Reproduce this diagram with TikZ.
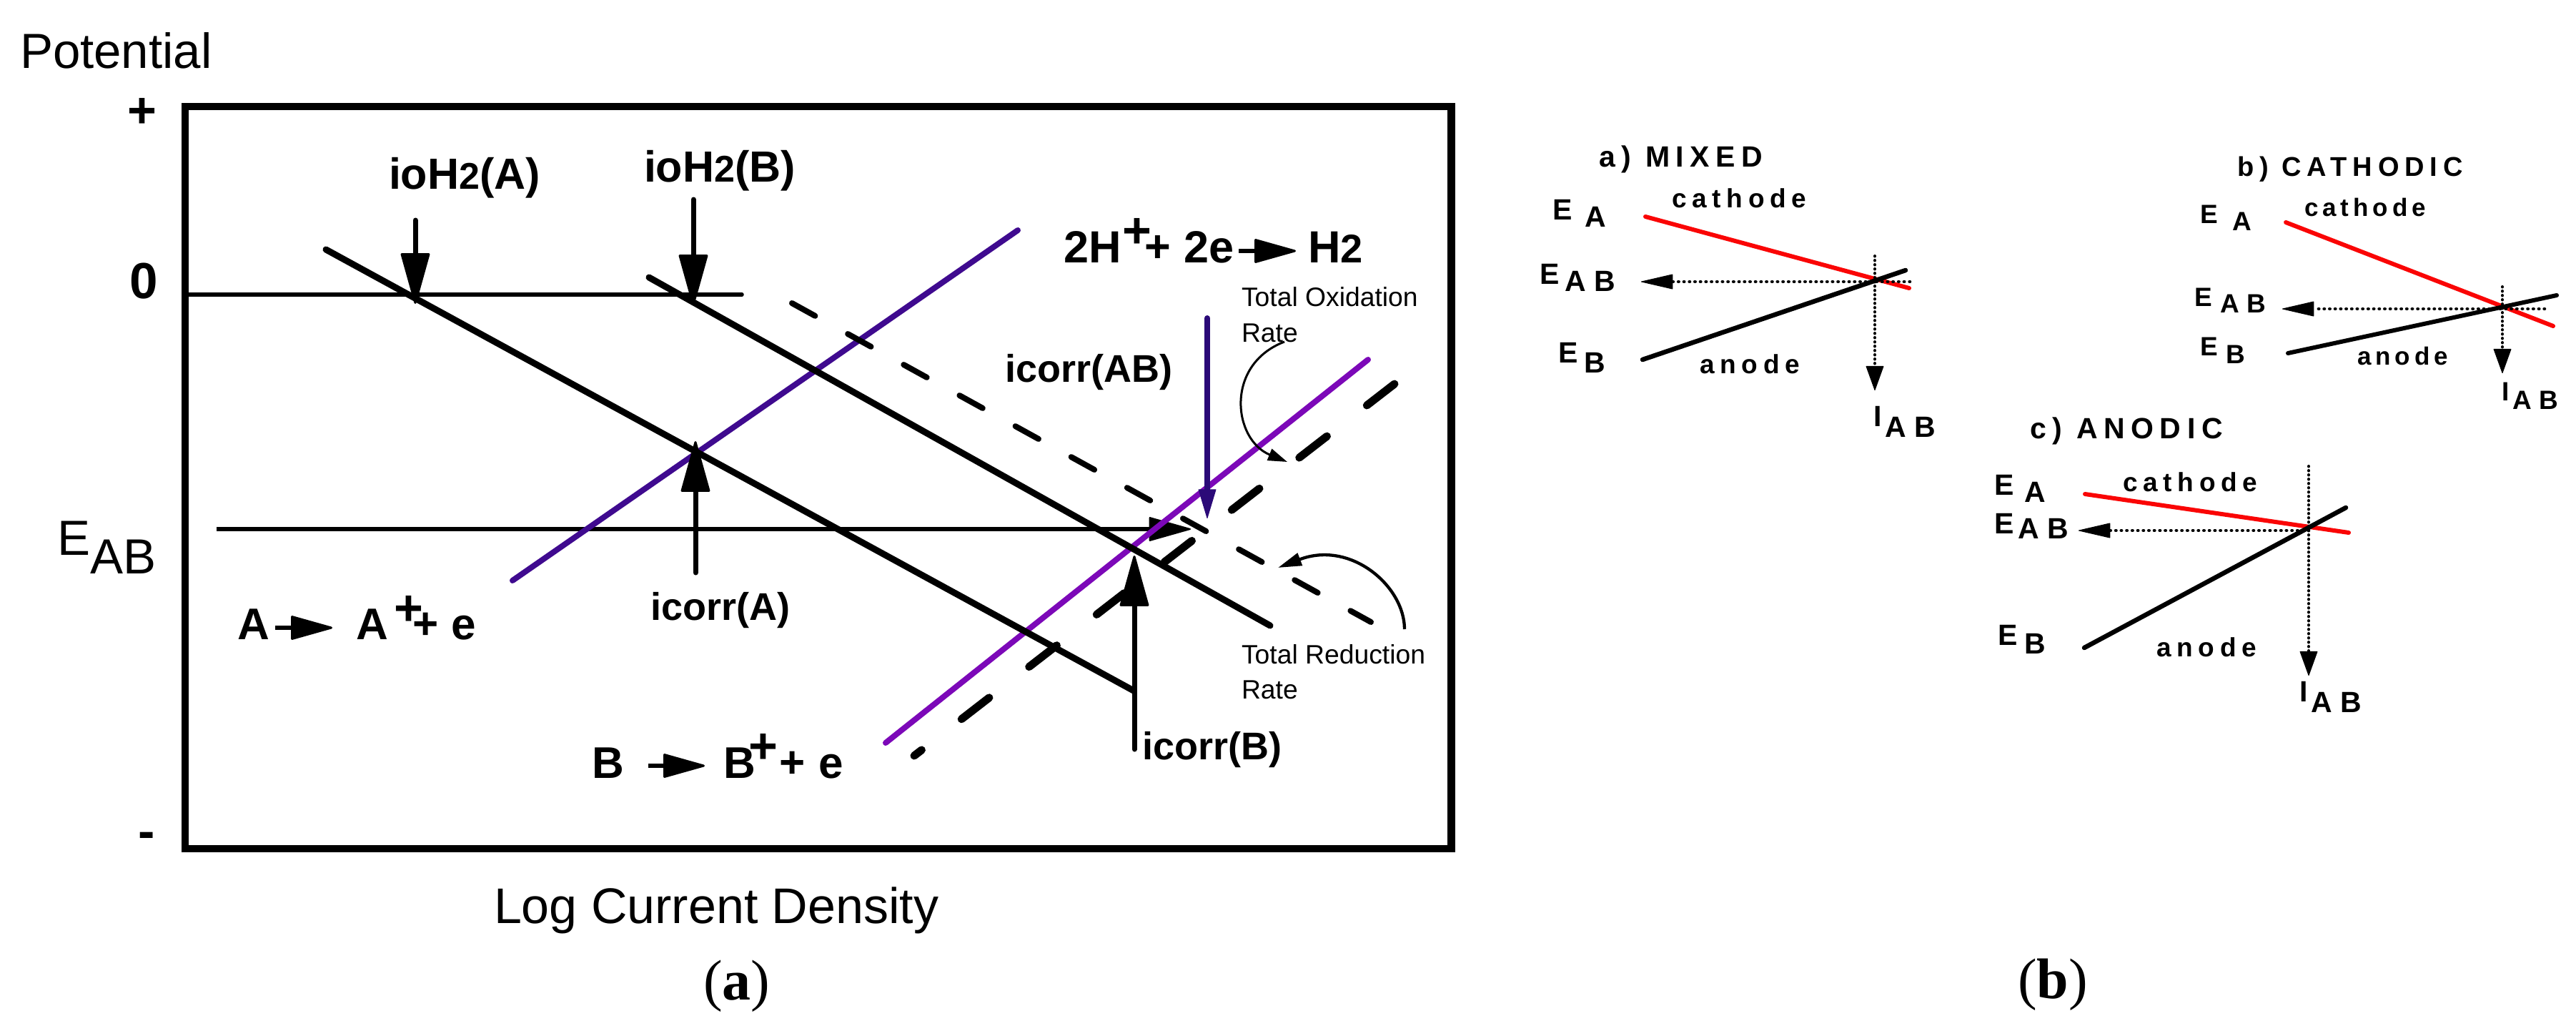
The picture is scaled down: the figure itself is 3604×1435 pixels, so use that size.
\documentclass[tikz,border=0pt]{standalone}
\usepackage{fontspec}
\usepackage{graphicx}
\setmainfont{Liberation Sans}
\newfontfamily\spc[LetterSpace=21]{Liberation Sans}
\newfontfamily\spcn[LetterSpace=17]{Liberation Sans}
\newfontfamily\spcs[LetterSpace=28]{Liberation Sans}
\newfontfamily\capfont{Liberation Serif}
\usetikzlibrary{arrows.meta}
\definecolor{indigoA}{HTML}{3F0A8F}
\definecolor{indigoD}{HTML}{2B0A78}
\definecolor{violetB}{HTML}{7C08B8}
\definecolor{redL}{HTML}{FA0505}
\newcommand\szf[1]{\fontsize{#1}{#1}\selectfont}
% name, x, baseline, size, main, dx to sub, drop, sub
\newcommand\sublab[8]{\node[lab,font=\bfseries\szf{#4}] (#1) at (#2,#3) {\makebox[0pt][l]{#5}\hspace{#6pt}\raisebox{-#7pt}{\spcs\bfseries #8}};}
\tikzset{
  lab/.style={anchor=base west,inner sep=0pt,outer sep=0pt},
  frame/.style={line width=10.5pt,line join=miter},
  thinrule/.style={line width=5.5pt,line cap=round},
  thick black/.style={line width=9pt,line cap=round},
  ratedash/.style={line width=8pt,line cap=round,dash pattern=on 37pt off 52.2pt},
  oxdash/.style={line width=11pt,line cap=round,dash pattern=on 49pt off 70.5pt},
  purp/.style={line width=8pt,line cap=round},
  bigarrow/.style={line width=7pt,line cap=round,-{Triangle[round,line width=3pt,length=75pt,width=41pt]}},
  rxnarrow/.style={line width=5.5pt,-{Triangle[round,line width=3pt,length=62pt,width=34pt]}},
  curvy/.style={line width=3pt},
  smallline/.style={line width=6pt,line cap=round},
  dotted h/.style={line width=4.5pt,line cap=round,dash pattern=on 0.5pt off 7.2pt,-{Triangle[round,sep=0pt,line width=1pt,length=46pt,width=21pt,fill=black]}},
  dashed v/.style={line width=4pt,line cap=round,dash pattern=on 0.5pt off 5.5pt,-{Triangle[round,line width=1pt,length=35pt,width=25pt]}},
}
\begin{document}
\begin{tikzpicture}[x=1pt,y=-1pt]
\useasboundingbox (0,0) rectangle (3604,1435);
% ---------- panel (a) ----------
\draw[frame] (259,149) rectangle (2030.5,1187);
\node[lab,font=\szf{69}] (potential) at (28,95) {Potential};
\node[lab,font=\bfseries\szf{70}] (plus) at (178,178) {+};
\node[lab,font=\bfseries\szf{71}] (zero) at (181,417) {0};
\node[lab,font=\bfseries\szf{70}] (minus) at (193,1186) {-};
\node[lab,font=\szf{69}] (eab) at (80,776) {E\raisebox{-26pt}{AB}};
\node[lab,font=\szf{70}] (logcd) at (691,1291) {Log Current Density};
\node[lab,font=\capfont\szf{80}] (capa) at (984,1398) {(\textbf{a})};
\node[lab,font=\capfont\szf{80}] (capb) at (2823,1396) {(\textbf{b})};

\coordinate (z0) at (259,412); \coordinate (z1) at (1038,412);
\draw[thinrule] (z0) -- (z1);
\coordinate (e0) at (303,740); \coordinate (e1) at (1666,740);
\draw[line width=5.5pt,-{Triangle[round,line width=2pt,length=61pt,width=34pt]}] (e0) -- (e1);

\coordinate (pa0) at (717,812); \coordinate (pa1) at (1424,322);
\coordinate (pb0) at (1239,1039); \coordinate (pb1) at (1914,503);
\draw[purp,indigoA] (pa0) -- (pa1);
\draw[purp,violetB] (pb0) -- (pb1);

\coordinate (la0) at (456,349); \coordinate (la1) at (1586,966);
\coordinate (lb0) at (908,388); \coordinate (lb1) at (1777,875);
\draw[thick black] (la0) -- (la1);
\draw[thick black] (lb0) -- (lb1);
\coordinate (rd0) at (1108,424); \coordinate (rd1) at (1918,870);
\draw[ratedash] (rd0) -- (rd1);
\coordinate (ox0) at (1951,537); \coordinate (ox1) at (1279,1057);
\draw[oxdash] (ox0) -- (ox1);

% vertical arrows
\coordinate (ia0) at (581,308); \coordinate (ia1) at (581,425);
\coordinate (ib0) at (970,279); \coordinate (ib1) at (970,427);
\coordinate (ca0) at (973,801); \coordinate (ca1) at (973,617);
\coordinate (cb0) at (1587,1048); \coordinate (cb1) at (1587,777);
\coordinate (cab0) at (1689,445); \coordinate (cab1) at (1689,725);
\draw[bigarrow] (ia0) -- (ia1);
\draw[bigarrow] (ib0) -- (ib1);
\draw[bigarrow] (ca0) -- (ca1);
\draw[bigarrow] (cb0) -- (cb1);
\draw[line width=8pt,line cap=round,indigoD,-{Triangle[round,line width=1pt,length=42pt,width=25pt]}] (cab0) -- (cab1);

% curved arrows
\coordinate (co0) at (1797,478); \coordinate (co1) at (1801,646);
\draw[curvy,-{Triangle[length=27pt,width=17pt]}] (co0) .. controls (1713,510) and (1725,615) .. (co1);
\coordinate (cr0) at (1965,880); \coordinate (cr1) at (1788,794);
\draw[line width=4.3pt,-{Triangle[length=33pt,width=18pt]}] (cr0) .. controls (1965,820) and (1890,755) .. (cr1);

% labels
\node[lab,font=\bfseries\szf{61}] (ioa) at (544,264) {ioH{\szf{52}2}(A)};
\node[lab,font=\bfseries\szf{61}] (iob) at (901,254) {ioH{\szf{52}2}(B)};
\node[lab,font=\bfseries\szf{54}] (icab) at (1406,534) {icorr(AB)};
\node[lab,font=\bfseries\szf{54}] (ica) at (910,867) {icorr(A)};
\node[lab,font=\bfseries\szf{54}] (icb) at (1598,1062) {icorr(B)};
\node[lab,font=\szf{37.3}] (toxa) at (1737,428) {Total Oxidation};
\node[lab,font=\szf{37.3}] (toxb) at (1737,478) {Rate};
\node[lab,font=\szf{37.3}] (trda) at (1737,928) {Total Reduction};
\node[lab,font=\szf{37.3}] (trdb) at (1737,977) {Rate};

% H reaction
\node[lab,font=\bfseries\szf{63}] (hh) at (1488,367) {2H};
\node[lab,font=\bfseries\szf{70}] (hs) at (1570,346) {+};
\node[lab,font=\bfseries\szf{63}] (hp) at (1601,366) {+};
\node[lab,font=\bfseries\szf{63}] (he) at (1656,367) {2e};
\node[lab,font=\bfseries\szf{63}] (h2) at (1830,367) {H{\szf{56}2}};
\coordinate (hr0) at (1733,351); \coordinate (hr1) at (1813,351);
\draw[rxnarrow] (hr0) -- (hr1);
% A reaction
\node[lab,font=\bfseries\szf{62}] (ra) at (332,894) {A};
\coordinate (ar0) at (385,878); \coordinate (ar1) at (465,878);
\draw[rxnarrow] (ar0) -- (ar1);
\node[lab,font=\bfseries\szf{62}] (rb) at (498,894) {A};
\node[lab,font=\bfseries\szf{70}] (rs) at (551,874) {+};
\node[lab,font=\bfseries\szf{62}] (rp) at (577,893) {+};
\node[lab,font=\bfseries\szf{62}] (re) at (631,894) {e};
% B reaction
\node[lab,font=\bfseries\szf{62}] (sa) at (828,1088) {B};
\coordinate (br0) at (907,1071); \coordinate (br1) at (986,1071);
\draw[rxnarrow] (br0) -- (br1);
\node[lab,font=\bfseries\szf{62}] (sb) at (1012,1088) {B};
\node[lab,font=\bfseries\szf{70}] (ss) at (1047,1067) {+};
\node[lab,font=\bfseries\szf{62}] (sp) at (1090,1087) {+};
\node[lab,font=\bfseries\szf{62}] (se) at (1145,1088) {e};

% ---------- panel (b) a) ----------
\node[lab,font=\spc\bfseries\szf{41}] (mt) at (2237,233) {a) MIXED};
\sublab{ma}{2172}{307}{41}{E}{45}{10}{A}
\node[lab,font=\spc\bfseries\szf{37}] (mc) at (2339,290) {cathode};
\sublab{mab}{2154}{397}{41}{E}{35}{10}{AB}
\sublab{mb}{2180}{507}{41}{E}{36}{14}{B}
\node[lab,font=\spc\bfseries\szf{37}] (mn) at (2378,522) {anode};
\sublab{mi}{2621}{596}{41}{I}{16}{15}{AB}
\coordinate (mr0) at (2302,303); \coordinate (mr1) at (2671,403);
\coordinate (mk0) at (2298,503); \coordinate (mk1) at (2666,378);
\coordinate (md0) at (2672,394); \coordinate (md1) at (2296,394);
\coordinate (mv0) at (2623,358); \coordinate (mv1) at (2623,546);
\draw[smallline,redL] (mr0) -- (mr1);
\draw[line width=6.5pt,line cap=round] (mk0) -- (mk1);
\draw[dotted h] (md0) -- (md1);
\draw[dashed v] (mv0) -- (mv1);

% ---------- b) ----------
\node[lab,font=\spc\bfseries\szf{38}] (ct) at (3130,246) {b) CATHODIC};
\sublab{ca}{3078}{312}{37}{E}{45}{10}{A}
\node[lab,font=\spcn\bfseries\szf{35}] (cc) at (3224,302) {cathode};
\sublab{cab}{3070}{428}{37}{E}{36}{9}{AB}
\sublab{cbb}{3078}{497}{37}{E}{36}{11}{B}
\node[lab,font=\spcn\bfseries\szf{35}] (cn) at (3298,510) {anode};
\sublab{ci}{3500}{560}{37}{I}{15}{12}{AB}
\coordinate (cr2) at (3198,311); \coordinate (cr3) at (3572,456);
\coordinate (ck0) at (3201,494); \coordinate (ck1) at (3577,413);
\coordinate (cd0) at (3560,432); \coordinate (cd1) at (3193,432);
\coordinate (cv0) at (3501,401); \coordinate (cv1) at (3501,522);
\draw[smallline,redL] (cr2) -- (cr3);
\draw[smallline] (ck0) -- (ck1);
\draw[dotted h] (cd0) -- (cd1);
\draw[dashed v] (cv0) -- (cv1);

% ---------- c) ----------
\node[lab,font=\spc\bfseries\szf{41}] (at) at (2840,613) {c) ANODIC};
\sublab{aa}{2790}{692}{41}{E}{42}{10}{A}
\node[lab,font=\spc\bfseries\szf{37}] (ac) at (2970,687) {cathode};
\sublab{aab}{2790}{746}{41}{E}{33}{7}{AB}
\sublab{ab}{2795}{902}{41}{E}{37}{12}{B}
\node[lab,font=\spc\bfseries\szf{37}] (an) at (3017,918) {anode};
\sublab{ai}{3217}{981}{41}{I}{16}{15}{AB}
\coordinate (ar2) at (2917,691); \coordinate (ar3) at (3286,745);
\coordinate (ak0) at (2916,906); \coordinate (ak1) at (3282,710);
\coordinate (ad0) at (3230,742); \coordinate (ad1) at (2908,742);
\coordinate (av0) at (3230,652); \coordinate (av1) at (3230,945);
\draw[smallline,redL] (ar2) -- (ar3);
\draw[line width=6.5pt,line cap=round] (ak0) -- (ak1);
\draw[dotted h] (ad0) -- (ad1);
\draw[dashed v] (av0) -- (av1);
\end{tikzpicture}
\end{document}
